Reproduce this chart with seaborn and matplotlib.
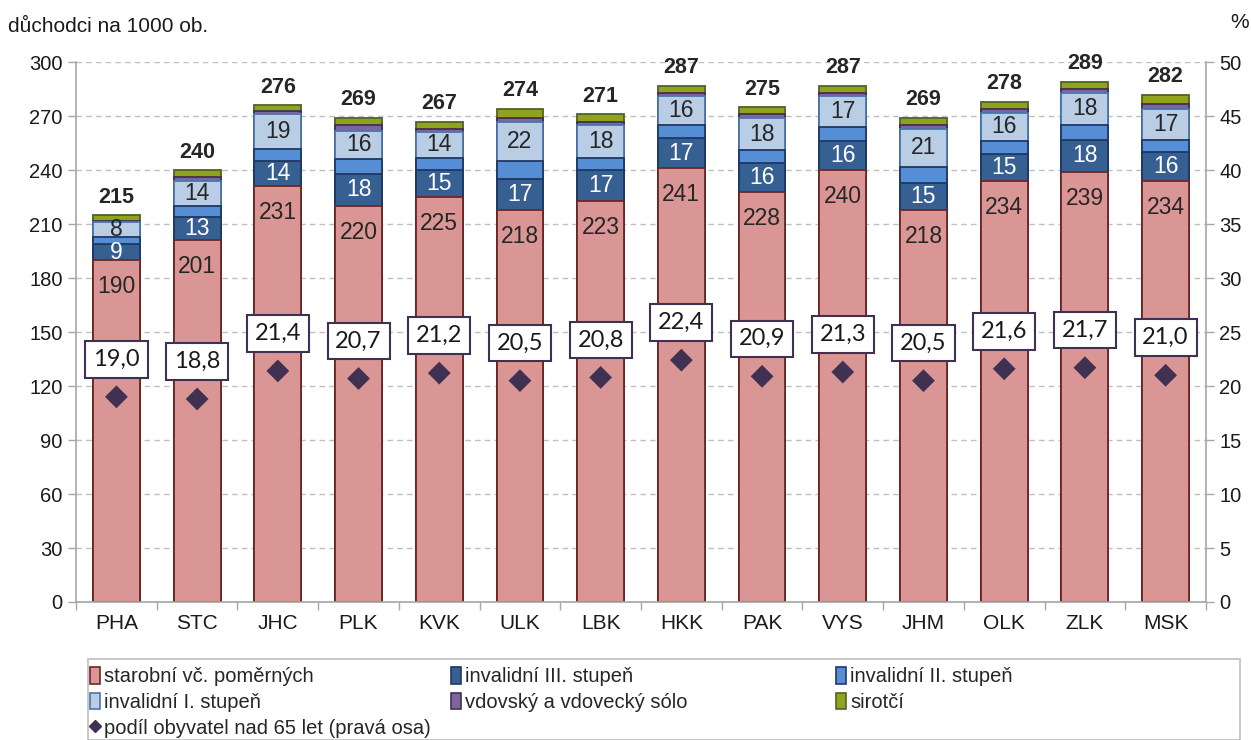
import numpy as np
import matplotlib
matplotlib.use('Agg')
import matplotlib.pyplot as plt
from matplotlib.patches import Patch, Rectangle
from matplotlib.lines import Line2D
import seaborn as sns

# data
regions = ['PHA', 'STC', 'JHC', 'PLK', 'KVK', 'ULK', 'LBK', 'HKK', 'PAK', 'VYS', 'JHM', 'OLK', 'ZLK', 'MSK']
starobni = [190, 201, 231, 220, 225, 218, 223, 241, 228, 240, 218, 234, 239, 234]
inv3 = [9, 13, 14, 18, 15, 17, 17, 17, 16, 16, 15, 15, 18, 16]
inv2 = [4, 6, 7, 8, 7, 10, 7, 7, 7, 8, 9, 7, 8, 7]
inv1 = [8, 14, 19, 16, 14, 22, 18, 16, 18, 17, 21, 16, 18, 17]
vdov = [1, 2, 2, 3, 2, 2, 2, 2, 2, 2, 2, 2, 2, 3]
sirot = [3, 4, 3, 4, 4, 5, 4, 4, 4, 4, 4, 4, 4, 5]
totals = [215, 240, 276, 269, 267, 274, 271, 287, 275, 287, 269, 278, 289, 282]
podil65 = [19.0, 18.8, 21.4, 20.7, 21.2, 20.5, 20.8, 22.4, 20.9, 21.3, 20.5, 21.6, 21.7, 21.0]

labels = ['starobní vč. poměrných', 'invalidní III. stupeň', 'invalidní II. stupeň',
          'invalidní I. stupeň', 'vdovský a vdovecký sólo', 'sirotčí']
fills = ['#D99694', '#376092', '#558ED5', '#B9CDE5', '#8064A2', '#8FA41C']
edges = ['#6E2624', '#1F3864', '#1F3864', '#4A76AC', '#3F3151', '#4F6228']
diam_col = '#403152'

sns.set_theme(style='white')
plt.rcParams['font.family'] = ['Liberation Sans', 'DejaVu Sans']

fig = plt.figure(figsize=(12.51, 7.40), dpi=100)
ax = fig.add_axes([0.0608, 0.1865, 0.9032, 0.7295])

# stacked bars: draw cumulative sums from top down
series = [starobni, inv3, inv2, inv1, vdov, sirot]
cum = np.cumsum(np.array(series), axis=0)
for k in range(len(series) - 1, -1, -1):
    sns.barplot(x=regions, y=cum[k], color=fills[k], edgecolor=edges[k], linewidth=1.3,
                width=0.58, saturation=1, ax=ax, zorder=2)

ax.set_xlim(-0.5, 13.5)
ax.set_ylim(0, 300)
ax.set_yticks(np.arange(0, 301, 30))
ax.set_xticks(np.arange(14))
ax.set_xticklabels(regions)
ax.set_xticks(np.arange(-0.5, 14, 1), minor=True)
ax.tick_params(axis='x', which='major', length=0, labelsize=15, pad=9, colors='#1a1a1a')
ax.tick_params(axis='x', which='minor', length=6, width=1, color='#A6A6A6', direction='out')
ax.tick_params(axis='y', length=6, width=1, direction='out', labelsize=14.5,
               colors='#A6A6A6', labelcolor='#1a1a1a')
ax.xaxis.set_tick_params(which='minor', bottom=True)
ax.yaxis.grid(True, color='#BFBFBF', linestyle=(0, (4, 3)), linewidth=1)
ax.set_axisbelow(True)
for s in ['top', 'right']:
    ax.spines[s].set_visible(False)
for s in ['left', 'bottom']:
    ax.spines[s].set_color('#A6A6A6')
    ax.spines[s].set_linewidth(1.2)
ax.set_xlabel('')
ax.set_ylabel('')

# segment labels
for i in range(len(regions)):
    ax.annotate(str(starobni[i]), (i, starobni[i]), xytext=(0, -19), textcoords='offset points',
                ha='center', va='center', fontsize=16.5, color='#262626', zorder=6)
    ax.text(i, starobni[i] + inv3[i] / 2, str(inv3[i]), ha='center', va='center',
            fontsize=16.5, color='white', zorder=6)
    ax.text(i, starobni[i] + inv3[i] + inv2[i] + inv1[i] / 2, str(inv1[i]), ha='center',
            va='center', fontsize=16.5, color='#262626', zorder=6)
    ax.annotate(str(totals[i]), (i, totals[i]), xytext=(0, 9), textcoords='offset points',
                ha='center', va='baseline', fontsize=15.5, fontweight='bold', color='#262626')

# right axis: share of population over 65
ax2 = ax.twinx()
sns.scatterplot(x=regions, y=podil65, marker='D', s=135, color=diam_col, edgecolor='none',
                ax=ax2, zorder=5, legend=False)
ax2.set_xlim(-0.5, 13.5)
ax2.set_ylim(0, 50)
ax2.set_yticks(np.arange(0, 51, 5))
ax2.tick_params(axis='y', length=6, width=1, direction='out', colors='#A6A6A6',
                labelcolor='#1a1a1a', labelsize=14.5)
ax2.grid(False)
for s in ['top', 'left', 'bottom']:
    ax2.spines[s].set_visible(False)
ax2.spines['right'].set_color('#A6A6A6')
ax2.spines['right'].set_linewidth(1.2)
ax2.set_ylabel('')
for i, v in enumerate(podil65):
    ax2.annotate(f'{v:.1f}'.replace('.', ','), (i, v), xytext=(0, 27), textcoords='offset points',
                 ha='center', va='center', fontsize=17, family=['Lato', 'DejaVu Sans'],
                 color='#1a1a1a', zorder=7,
                 bbox=dict(boxstyle='square,pad=0.33', fc='white', ec=diam_col, lw=1.5))

fig.text(8 / 1251, 1 - 27 / 740, 'důchodci na 1000 ob.', fontsize=15, va='center', ha='left',
         color='#1a1a1a')
fig.text(1240 / 1251, 1 - 22 / 740, '%', fontsize=15, va='center', ha='center', color='#1a1a1a')

# legend in three columns
h = [Patch(facecolor=fills[k], edgecolor=edges[k], linewidth=1.2) for k in range(6)]
hd = Line2D([], [], marker='D', color=diam_col, linestyle='none', markersize=6)
cols = [([h[0], h[3], hd], [labels[0], labels[3], 'podíl obyvatel nad 65 let (pravá osa)']),
        ([h[1], h[4]], [labels[1], labels[4]]),
        ([h[2], h[5]], [labels[2], labels[5]])]
xs = [90, 451, 836]
for (hh, ll), x0 in zip(cols, xs):
    fig.legend(hh, ll, loc='upper left', bbox_to_anchor=(x0 / 1251, 1 - 667 / 740),
               frameon=False, fontsize=14.5, handlelength=0.5, handleheight=0.9,
               handletextpad=0.2, labelspacing=0.32, borderpad=0, borderaxespad=0)
fig.patches.append(Rectangle((88 / 1251, 0), (1240 - 88) / 1251, (740 - 659) / 740,
                             transform=fig.transFigure, fill=False, edgecolor='#BFBFBF',
                             linewidth=1.2))

fig.savefig('out.png', dpi=100)
